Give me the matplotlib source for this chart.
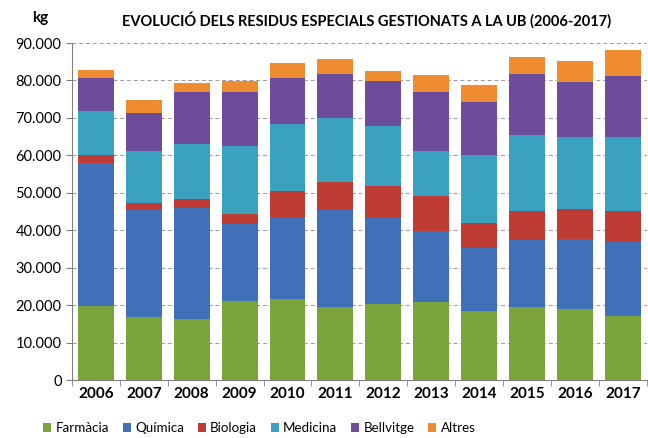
import matplotlib
matplotlib.use("Agg")
import matplotlib.pyplot as plt
import numpy as np
from matplotlib.ticker import FuncFormatter, FixedLocator

plt.rcParams['font.family'] = ['Lato', 'DejaVu Sans']

years = ["2006", "2007", "2008", "2009", "2010", "2011", "2012", "2013", "2014", "2015", "2016", "2017"]
farmacia = [19760, 16900, 16290, 21100, 21630, 19500, 20200, 20740, 18420, 19580, 18870, 17090]
quimica = [38100, 28490, 29550, 20560, 21980, 25890, 22970, 19050, 16910, 17800, 18700, 19840]
biologia = [2220, 1960, 2410, 2750, 6940, 7570, 8720, 9430, 6680, 7750, 8180, 8200]
medicina = [11750, 13800, 14680, 18160, 17730, 17090, 16020, 12010, 18070, 20380, 19230, 19670]
bellvitge = [8730, 10230, 13970, 14250, 12280, 11800, 12020, 15590, 14240, 16200, 14590, 16470]
altres = [2220, 3390, 2490, 3020, 4170, 3780, 2670, 4620, 4450, 4630, 5700, 6850]

series = [
    ("Farmàcia", farmacia, "#7ba33c"),
    ("Química", quimica, "#3f70b8"),
    ("Biologia", biologia, "#bf3b36"),
    ("Medicina", medicina, "#3aa2bf"),
    ("Bellvitge", bellvitge, "#6d4c9c"),
    ("Altres", altres, "#ef8c31"),
]

fig = plt.figure(figsize=(6.48, 4.38), dpi=100)
ax = fig.add_axes([0.111, 0.1324, 0.887, 0.7694])

x = np.arange(len(years))
bottom = np.zeros(len(years))
for name, vals, col in series:
    ax.bar(x, vals, width=0.75, bottom=bottom, color=col, label=name, zorder=3)
    bottom += np.array(vals)

ax.set_ylim(0, 90000)
ax.set_xlim(-0.5, len(years) - 0.5)
ax.set_yticks(np.arange(0, 90001, 10000))
ax.yaxis.set_major_formatter(FuncFormatter(lambda v, p: f"{int(v):,}".replace(",", ".")))
ax.grid(axis='y', linestyle=(0, (4, 3)), color='#9a9a9a', linewidth=0.7, zorder=0)
ax.set_axisbelow(True)

ax.set_xticks(x)
ax.set_xticklabels(years, fontweight='bold', fontsize=11)
ax.xaxis.set_minor_locator(FixedLocator(np.arange(-0.5, len(years), 1.0)))
ax.tick_params(axis='x', which='major', length=0, pad=5)
ax.tick_params(axis='x', which='minor', length=4, color='#808080')
ax.tick_params(axis='y', labelsize=10.5, length=4, color='#808080')

for s in ['top', 'right']:
    ax.spines[s].set_visible(False)
for s in ['left', 'bottom']:
    ax.spines[s].set_color('#808080')

fig.text(0.565, 0.955, "EVOLUCIÓ DELS RESIDUS ESPECIALS GESTIONATS A LA UB (2006-2017)",
         ha='center', va='center', fontsize=10.5, fontweight='bold')
fig.text(0.062, 0.958, "kg", ha='center', va='center', fontsize=11, fontweight='bold')

fig.legend(loc='center', bbox_to_anchor=(0.40, 0.022), ncol=6, frameon=False,
           fontsize=9.6, handlelength=0.6, handleheight=0.6, handletextpad=0.35,
           columnspacing=1.0, borderpad=0.1)

fig.savefig("out.png", dpi=100)
